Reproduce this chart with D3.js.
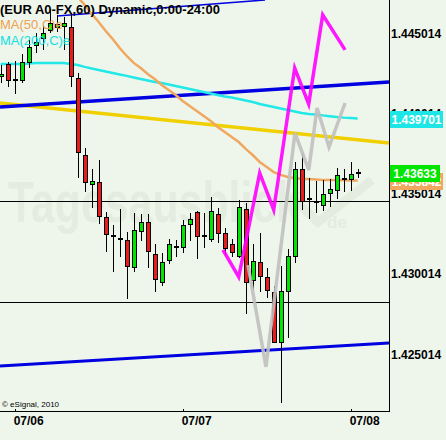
<!DOCTYPE html>
<html>
<head>
<meta charset="utf-8">
<script src="https://cdn.jsdelivr.net/npm/d3@7"></script>
<style>
body { margin: 0; background: #eef6ec; }
text { font-family: "Liberation Sans", Arial, sans-serif; }
</style>
</head>
<body>
<div id="chart"></div>
<script>
// hourly candles, first one is 07/05 22:00
var firstCandle = new Date(2010, 6, 5, 22);
var open = [1.44236,1.44310,1.44210,1.44210,1.44323,1.44429,1.44472,1.44522,1.44541,1.44547,
  1.44541,1.44223,1.43743,1.43563,1.43575,1.43357,1.43239,1.43220,1.43214,1.43046,
  1.43270,1.43326,1.43127,1.42952,1.43089,1.43170,1.43170,1.43313,1.43388,1.43239,
  1.43220,1.43376,1.43257,1.43189,1.43114,1.43407,1.42965,1.43077,1.42983,1.42890,
  1.42578,1.42896,1.43114,1.43656,1.43469,1.43451,1.43432,1.43507,1.43525,1.43594,
  1.43594,1.43631];
var high = [1.44304,1.44323,1.44329,1.44373,1.44460,1.44503,1.44553,1.44653,1.44616,1.44603,
  1.44628,1.44254,1.43787,1.43656,1.43712,1.43388,1.43307,1.43407,1.43264,1.43382,
  1.43376,1.43376,1.43189,1.43133,1.43220,1.43214,1.43338,1.43382,1.43394,1.43382,
  1.43482,1.43413,1.43289,1.43220,1.43463,1.43444,1.43189,1.43257,1.43039,1.42927,
  1.43052,1.43158,1.43700,1.43750,1.43600,1.43581,1.43588,1.43594,1.43662,1.43656,
  1.43700,1.43656];
var low = [1.44192,1.44167,1.44123,1.44192,1.44285,1.44379,1.44398,1.44503,1.44510,1.44398,
  1.44167,1.43600,1.43513,1.43413,1.43313,1.43139,1.43014,1.43108,1.42846,1.43014,
  1.43208,1.43039,1.42890,1.42927,1.43064,1.43108,1.43133,1.43208,1.43095,1.43164,
  1.43201,1.43195,1.43120,1.43108,1.43102,1.42753,1.42902,1.42890,1.42852,1.42572,
  1.42198,1.42603,1.43071,1.43401,1.43345,1.43382,1.43394,1.43419,1.43469,1.43513,
  1.43519,1.43600];
var close = [1.44248,1.44210,1.44208,1.44323,1.44416,1.44447,1.44503,1.44566,1.44559,1.44566,
  1.44236,1.43762,1.43575,1.43581,1.43363,1.43251,1.43238,1.43219,1.43052,1.43276,
  1.43326,1.43145,1.42971,1.43077,1.43189,1.43171,1.43307,1.43345,1.43239,1.43238,
  1.43394,1.43257,1.43164,1.43139,1.43419,1.42952,1.43083,1.42990,1.42902,1.42578,
  1.42896,1.43114,1.43656,1.43457,1.43468,1.43450,1.43500,1.43532,1.43619,1.43593,
  1.43625,1.43633];

// MA(50) starts at the 11th candle, MA(200) covers all candles
var ma50Offset = 10;
var ma50 = [1.44759,1.44728,1.44678,1.44622,1.44572,1.44516,1.44466,1.44410,1.44360,1.44317,
  1.44285,1.44248,1.44217,1.44179,1.44148,1.44117,1.44080,1.44049,1.44017,1.43986,
  1.43955,1.43918,1.43887,1.43855,1.43824,1.43781,1.43743,1.43700,1.43669,1.43637,
  1.43619,1.43606,1.43600,1.43594,1.43594,1.43591,1.43588,1.43588,1.43588,1.43586,
  1.43585,1.435842];
var ma200 = [1.44310,1.44310,1.44310,1.44310,1.44313,1.44317,1.44317,1.44317,1.44317,1.44317,
  1.44310,1.44304,1.44292,1.44282,1.44273,1.44264,1.44254,1.44245,1.44236,1.44226,
  1.44217,1.44207,1.44198,1.44192,1.44183,1.44173,1.44164,1.44154,1.44145,1.44136,
  1.44126,1.44117,1.44108,1.44101,1.44092,1.44083,1.44073,1.44061,1.44052,1.44042,
  1.44033,1.44024,1.44014,1.44005,1.43999,1.43996,1.43990,1.43985,1.43980,1.43976,
  1.43973,1.439701];

// drawn objects: hours after 07/06 00:00 and price
var trendHours = [-2.1, 53.47];
var blueUpper = [1.44042, 1.44198];
var blueLower = [1.42429, 1.42572];
var yellowLine = [1.44067, 1.43818];
var blueTopHours = [6.04, 35.76];
var blueTop = [1.44609, 1.44709];
var levels = [1.43457, 1.42828];
var magentaHours = [29.75, 32, 35, 37, 40, 42, 44, 47.2];
var magentaPrices = [1.43152, 1.42983, 1.43631, 1.43401, 1.44285, 1.44061, 1.44616, 1.44398];
var grayHours = [33.33, 35.9, 40.04, 42, 43.2, 44.9, 47.2];
var grayPrices = [1.43058, 1.42423, 1.43880, 1.43650, 1.44036, 1.43793, 1.44067];

var priceTicks = [1.425014, 1.430014, 1.435014, 1.440014, 1.445014];
var dateTicks = [new Date(2010, 6, 6), new Date(2010, 6, 7), new Date(2010, 6, 8)];
var lastValues = [1.435842, 1.43633, 1.439701];
var lastLabels = ["1.435842", "1.43633", "1.439701"];
var lastColors = ["#f0a860", "#00e600", "#1ee6e6"];

var width = 446, height = 440,
  plotRight = 389, plotBottom = 411;

var x = d3.scaleTime().domain([dateTicks[0], dateTicks[2]]).range([14.7, 350.7]);
var y = d3.scaleLinear().domain([1.425014, 1.445014]).range([354.3, 33.3]);

function candleTime(k) { return d3.timeHour.offset(firstCandle, k); }
function hourTime(h) { return new Date(dateTicks[0].getTime() + h * 3600e3); }

var svg = d3.select("#chart").append("svg")
  .attr("width", width)
  .attr("height", height);

svg.append("rect").attr("width", width).attr("height", height).attr("fill", "#eef6ec");

svg.append("defs").append("clipPath").attr("id", "plot")
  .append("rect").attr("width", plotRight).attr("height", plotBottom);

var g = svg.append("g").attr("clip-path", "url(#plot)");

// watermark
g.append("text")
  .attr("x", 8).attr("y", 222)
  .attr("textLength", 292).attr("lengthAdjust", "spacingAndGlyphs")
  .style("font-family", "'Liberation Sans Narrow', 'Liberation Sans', sans-serif")
  .style("font-weight", "bold").style("font-size", "58px")
  .attr("fill", "#e3ecdf")
  .text("Tagesausblick");
g.append("text")
  .attr("x", 327).attr("y", 228)
  .style("font-weight", "bold").style("font-size", "17px")
  .attr("fill", "#e3ecdf")
  .text("de");
g.append("path")
  .attr("d", "M290,196 L318,222 L372,180")
  .attr("fill", "none").attr("stroke", "#e3ecdf").attr("stroke-width", 9);

// horizontal levels
g.selectAll(".level").data(levels).enter().append("line")
  .attr("x1", 0).attr("x2", plotRight)
  .attr("y1", function(d) { return Math.round(y(d)) + 0.5; })
  .attr("y2", function(d) { return Math.round(y(d)) + 0.5; })
  .attr("stroke", "#000").attr("stroke-width", 1);

var line = d3.line()
  .x(function(d) { return x(d[0]); })
  .y(function(d) { return y(d[1]); });

function trend(hours, prices, color, w) {
  g.append("path")
    .datum(hours.map(function(h, i) { return [hourTime(h), prices[i]]; }))
    .attr("d", line)
    .attr("fill", "none").attr("stroke", color).attr("stroke-width", w);
}

trend(blueTopHours, blueTop, "#0000e0", 1.5);
trend(trendHours, yellowLine, "#f0d000", 3.5);
trend(trendHours, blueUpper, "#0000e0", 3.5);
trend(trendHours, blueLower, "#0000e0", 3);

// moving averages
g.append("path")
  .datum(ma200.map(function(v, k) { return [candleTime(k), v]; }))
  .attr("d", line)
  .attr("fill", "none").attr("stroke", "#22e8e8").attr("stroke-width", 2.5);
g.append("path")
  .datum(ma50.map(function(v, k) { return [candleTime(k + ma50Offset), v]; }))
  .attr("d", line)
  .attr("fill", "none").attr("stroke", "#f0a860").attr("stroke-width", 2.5);

// candles
var candles = g.selectAll(".candle").data(open).enter().append("g")
  .attr("class", "candle")
  .attr("transform", function(d, k) { return "translate(" + Math.round(x(candleTime(k))) + ",0)"; })
  .style("shape-rendering", "crispEdges");

candles.append("line")
  .attr("x1", 0.5).attr("x2", 0.5)
  .attr("y1", function(d, k) { return y(high[k]); })
  .attr("y2", function(d, k) { return y(low[k]); })
  .attr("stroke", "#000");

candles.each(function(d, k) {
  var top = y(Math.max(open[k], close[k])),
    bottom = y(Math.min(open[k], close[k]));
  var c = d3.select(this);
  if (bottom - top < 1.5) {
    c.append("rect")
      .attr("x", -2).attr("y", Math.round(top) - 1)
      .attr("width", 5).attr("height", 2)
      .attr("fill", "#000");
  } else {
    c.append("rect")
      .attr("x", -1.5).attr("y", Math.round(top) + 0.5)
      .attr("width", 4).attr("height", Math.max(1, Math.round(bottom - top)))
      .attr("fill", close[k] > open[k] ? "#00e600" : "#e81c1c")
      .attr("stroke", "#000");
  }
});

// pattern zigzags
g.append("path")
  .datum(grayHours.map(function(h, i) { return [hourTime(h), grayPrices[i]]; }))
  .attr("d", line)
  .attr("fill", "none").attr("stroke", "#c0c0c0").attr("stroke-width", 3.5)
  .attr("opacity", 0.9);
g.append("path")
  .datum(magentaHours.map(function(h, i) { return [hourTime(h), magentaPrices[i]]; }))
  .attr("d", line)
  .attr("fill", "none").attr("stroke", "#ff00ff").attr("stroke-width", 3.5)
  .attr("opacity", 0.9);

// axes
svg.append("line")
  .attr("x1", plotRight + 0.5).attr("x2", plotRight + 0.5)
  .attr("y1", 0).attr("y2", plotBottom + 1)
  .attr("stroke", "#000");
svg.append("line")
  .attr("x1", 0).attr("x2", plotRight + 1)
  .attr("y1", plotBottom + 0.5).attr("y2", plotBottom + 0.5)
  .attr("stroke", "#000");

svg.selectAll(".ytick").data(priceTicks).enter().append("text")
  .attr("x", 391)
  .attr("y", function(d) { return y(d); })
  .attr("dy", "0.36em")
  .style("font-size", "12px").style("font-weight", "bold")
  .text(function(d) { return d3.format(".6f")(d); });

var tags = svg.selectAll(".tag").data(lastValues).enter().append("g")
  .attr("transform", function(d) { return "translate(390," + Math.round(y(d)) + ")"; });
tags.append("rect")
  .attr("x", 0).attr("y", -8)
  .attr("width", function(d, i) { return i == 1 ? 50 : 53; })
  .attr("height", 17)
  .attr("fill", function(d, i) { return lastColors[i]; });
tags.append("text")
  .attr("x", function(d, i) { return i == 1 ? 25 : 26.5; })
  .attr("y", 0.5).attr("dy", "0.36em")
  .attr("text-anchor", "middle")
  .attr("fill", "#fff")
  .style("font-size", "12px").style("font-weight", "bold")
  .text(function(d, i) { return lastLabels[i]; });

svg.selectAll(".xtick").data(dateTicks).enter().append("line")
  .attr("x1", function(d) { return Math.round(x(d)) + 0.5; })
  .attr("x2", function(d) { return Math.round(x(d)) + 0.5; })
  .attr("y1", plotBottom - 2).attr("y2", plotBottom)
  .attr("stroke", "#000");
svg.selectAll(".xlabel").data(dateTicks).enter().append("text")
  .attr("x", function(d) { return x(d) - 1; })
  .attr("y", 425)
  .style("font-size", "12px").style("font-weight", "bold")
  .text(d3.timeFormat("%m/%d"));

// legend
svg.append("text").attr("x", 0).attr("y", 14)
  .style("font-size", "13px").style("font-weight", "bold")
  .text("(EUR A0-FX,60) Dynamic,0:00-24:00");
svg.append("text").attr("x", 0).attr("y", 29)
  .style("font-size", "13px").attr("fill", "#f0a050")
  .text("MA(50,C)e");
svg.append("text").attr("x", 0).attr("y", 45)
  .style("font-size", "13px").attr("fill", "#10e0e0")
  .text("MA(200,C)e");
svg.append("text").attr("x", 2).attr("y", 407)
  .style("font-size", "8px")
  .text("\u00a9 eSignal, 2010");
</script>
</body>
</html>
